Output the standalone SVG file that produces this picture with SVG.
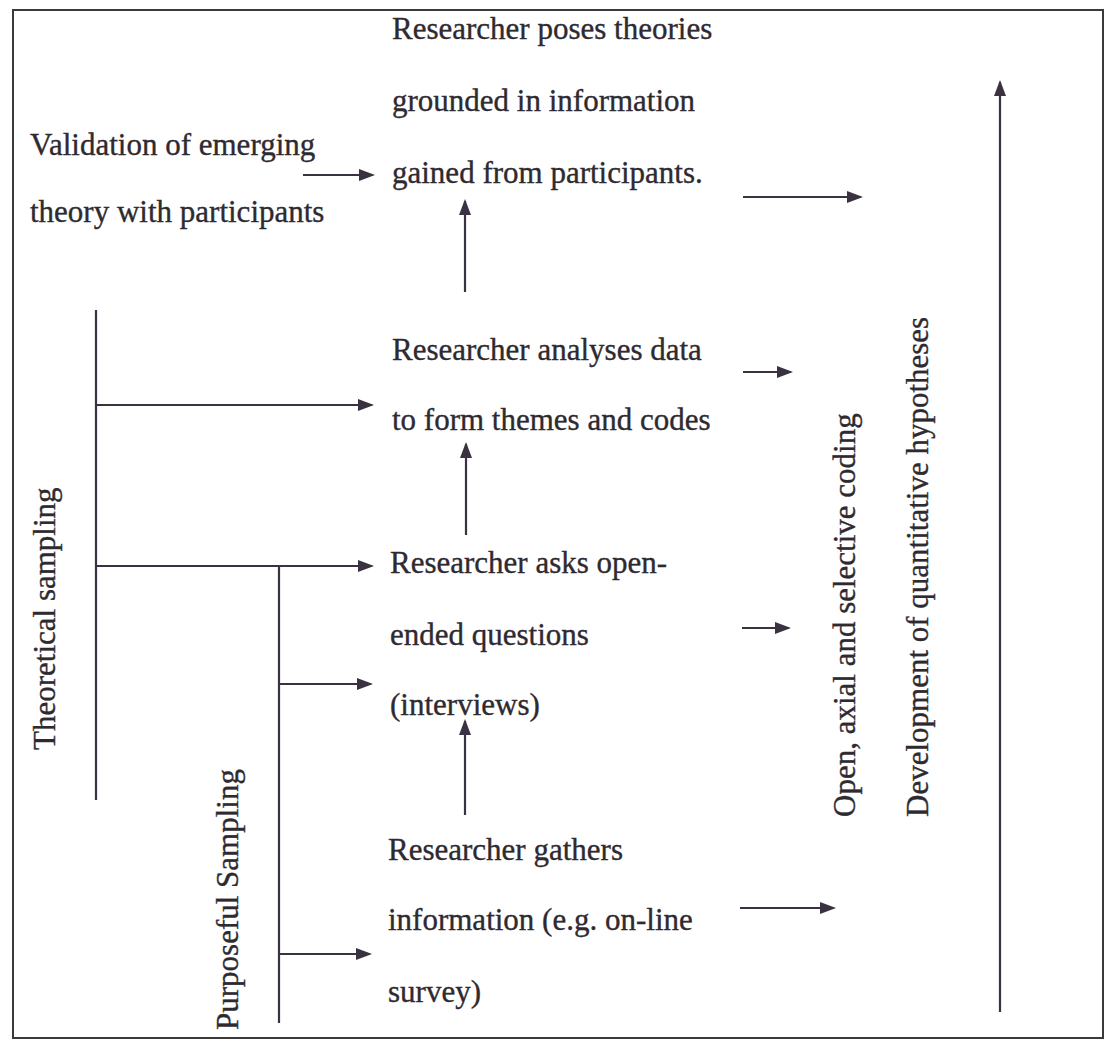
<svg xmlns="http://www.w3.org/2000/svg" width="1106" height="1041" viewBox="0 0 1106 1041">
<defs>
<style>
text{font-family:"Liberation Serif","Times New Roman",serif;font-size:31px;fill:#2e2a30;stroke:#2e2a30;stroke-width:0.35}
.ln{stroke:#3a3240;stroke-width:2.2;fill:none}
.ar{stroke:#3a3240;stroke-width:2.2;fill:none;marker-end:url(#ah)}
</style>
<marker id="ah" markerUnits="userSpaceOnUse" markerWidth="16" markerHeight="12" refX="14" refY="6" orient="auto">
<path d="M0,0 L16,6 L0,12 z" fill="#3a3240"/>
</marker>
</defs>
<rect x="0" y="0" width="1106" height="1041" fill="#ffffff"/>
<rect x="13" y="10" width="1090" height="1028" fill="none" stroke="#3a3a3a" stroke-width="2"/>
<g id="connectors">
<line class="ar" x1="303" y1="175" x2="373" y2="175"/>
<line class="ar" x1="465" y1="292" x2="465" y2="201"/>
<line class="ar" x1="743" y1="197" x2="861" y2="197"/>
<line class="ln" x1="96" y1="310" x2="96" y2="800"/>
<line class="ar" x1="96" y1="405" x2="372" y2="405"/>
<line class="ar" x1="743" y1="372" x2="791" y2="372"/>
<line class="ar" x1="466" y1="535" x2="466" y2="444"/>
<line class="ar" x1="96" y1="566" x2="372" y2="566"/>
<line class="ln" x1="279" y1="566" x2="279" y2="1023"/>
<line class="ar" x1="279" y1="684" x2="371" y2="684"/>
<line class="ar" x1="742" y1="628" x2="789" y2="628"/>
<line class="ar" x1="465" y1="815" x2="465" y2="721"/>
<line class="ar" x1="279" y1="954" x2="370" y2="954"/>
<line class="ar" x1="740" y1="908" x2="834" y2="908"/>
<line class="ar" x1="1000" y1="1012" x2="1000" y2="82"/>
</g>
<g id="n-poses">
<text x="392" y="39">Researcher poses theories</text>
<text x="392" y="111">grounded in information</text>
<text x="392" y="183">gained from participants.</text>
</g>
<g id="n-validation">
<text x="30" y="155">Validation of emerging</text>
<text x="30" y="222">theory with participants</text>
</g>
<g id="n-analyses">
<text x="392" y="360">Researcher analyses data</text>
<text x="392" y="430">to form themes and codes</text>
</g>
<g id="n-asks">
<text x="390" y="573">Researcher asks open-</text>
<text x="390" y="645">ended questions</text>
<text x="390" y="715">(interviews)</text>
</g>
<g id="n-gathers">
<text x="388" y="860">Researcher gathers</text>
<text x="388" y="930">information (e.g. on-line</text>
<text x="388" y="1002">survey)</text>
</g>
<g id="n-theoretical">
<text transform="translate(55,750) rotate(-90)">Theoretical sampling</text>
</g>
<g id="n-purposeful">
<text transform="translate(238,1030) rotate(-90)">Purposeful Sampling</text>
</g>
<g id="n-coding">
<text transform="translate(855,817) rotate(-90)">Open, axial and selective coding</text>
</g>
<g id="n-hypotheses">
<text transform="translate(928,817) rotate(-90)">Development of quantitative hypotheses</text>
</g>
</svg>
